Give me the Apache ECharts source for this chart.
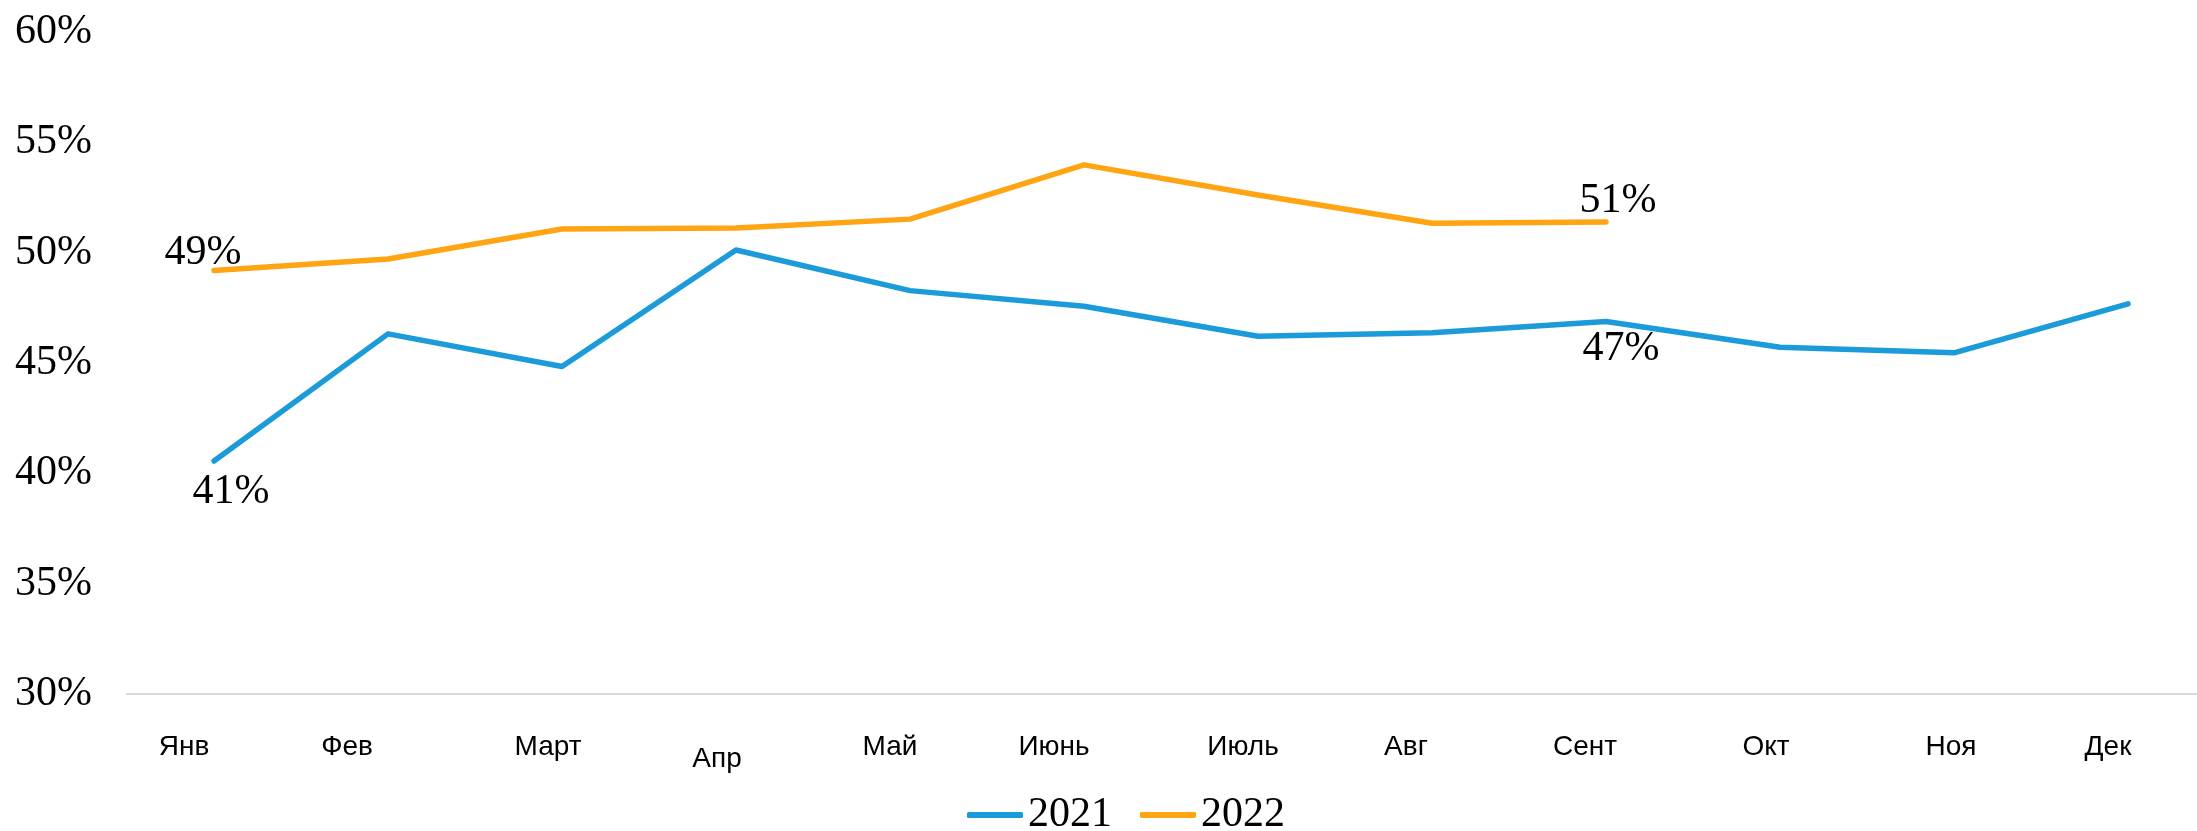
<!DOCTYPE html>
<html>
<head>
<meta charset="utf-8">
<script src="https://cdn.jsdelivr.net/npm/echarts@6/dist/echarts.min.js"></script>
<style>
  html, body { margin: 0; padding: 0; background: #fff; }
  #chart { width: 2197px; height: 831px; }
</style>
</head>
<body>
<div id="chart"></div>
<script>
// month categories
const months = ['Янв', 'Фев', 'Март', 'Апр', 'Май', 'Июнь', 'Июль', 'Авг', 'Сент', 'Окт', 'Ноя', 'Дек']
// monthly share, %
const share2021 = [40.56, 46.32, 44.84, 50.12, 48.28, 47.57, 46.21, 46.37, 46.88, 45.71, 45.46, 47.68]
const share2022 = [49.19, 49.71, 51.07, 51.12, 51.52, 53.98, 52.61, 51.33, 51.39]
// which points carry a value label
const labeled2021 = [0, 8]
const labeled2022 = [0, 8]

// layout only: horizontal nudge of each month label, and label offsets
const tickNudge = [-30, -41, -14, -19, -20, -30, -15, -26, -21, -14, -3, -20]
const offsets2021 = { 0: [17, 31], 8: [15, 27] }
const offsets2022 = { 0: [-11, -18], 8: [12, -21] }

const BLUE = '#1b9bd9'
const ORANGE = '#ffa412'
const SERIF = "'Liberation Serif', 'Times New Roman', serif"

function withLabels(values, idx, offsets) {
  return values.map((v, i) => {
    if (!idx.includes(i)) return v
    return {
      value: v,
      label: {
        show: true,
        position: 'inside',
        offset: offsets[i],
        formatter: p => Math.round(p.value) + '%',
        fontFamily: SERIF,
        fontSize: 42,
        color: '#000',
      },
    }
  })
}

const categoryData = months.map((m, i) => {
  const d = tickNudge[i]
  const top = i === 3 ? 12 : 0 // Апр sits a bit lower
  return {
    value: m,
    textStyle: { padding: [top, d < 0 ? -2 * d : 0, 0, d > 0 ? 2 * d : 0] },
  }
})

const chart = echarts.init(document.getElementById('chart'))

chart.setOption({
  animation: false,
  backgroundColor: '#fff',
  grid: [
    // plot area: first and last month sit on the edges
    { left: 214, top: 32, width: 1914, height: 662 },
    // only carries the long baseline under the plot
    { left: 127, top: 32, right: 0, height: 662 },
  ],
  legend: {
    left: 962,
    top: 789,
    icon: 'roundRect',
    itemWidth: 56,
    itemHeight: 6,
    itemGap: 28,
    textStyle: { fontFamily: SERIF, fontSize: 42, color: '#000' },
    data: ['2021', '2022'],
  },
  xAxis: [
    {
      type: 'category',
      gridIndex: 0,
      data: categoryData,
      boundaryGap: false,
      axisLine: { show: false },
      axisTick: { show: false },
      axisLabel: {
        interval: 0,
        margin: 39,
        fontFamily: "'Liberation Sans', Arial, sans-serif",
        fontSize: 28,
        color: '#000',
      },
    },
    {
      type: 'value',
      gridIndex: 1,
      min: 0,
      max: 1,
      axisLine: { show: true, lineStyle: { color: '#d9d9d9', width: 2 } },
      axisTick: { show: false },
      axisLabel: { show: false },
      splitLine: { show: false },
    },
  ],
  yAxis: [
    {
      type: 'value',
      gridIndex: 0,
      min: 30,
      max: 60,
      interval: 5,
      axisLine: { show: false },
      axisTick: { show: false },
      splitLine: { show: false },
      axisLabel: {
        formatter: '{value}%',
        margin: 122,
        fontFamily: SERIF,
        fontSize: 42,
        color: '#000',
      },
    },
    {
      type: 'value',
      gridIndex: 1,
      min: 0,
      max: 1,
      show: false,
    },
  ],
  series: [
    {
      name: '2021',
      type: 'line',
      data: withLabels(share2021, labeled2021, offsets2021),
      symbol: 'circle',
      symbolSize: 1,
      showSymbol: true,
      color: BLUE,
      lineStyle: { width: 5.5, color: BLUE, cap: 'round', join: 'round' },
      itemStyle: { color: BLUE },
    },
    {
      name: '2022',
      type: 'line',
      data: withLabels(share2022, labeled2022, offsets2022),
      symbol: 'circle',
      symbolSize: 1,
      showSymbol: true,
      color: ORANGE,
      lineStyle: { width: 5.5, color: ORANGE, cap: 'round', join: 'round' },
      itemStyle: { color: ORANGE },
    },
  ],
})
</script>
</body>
</html>
